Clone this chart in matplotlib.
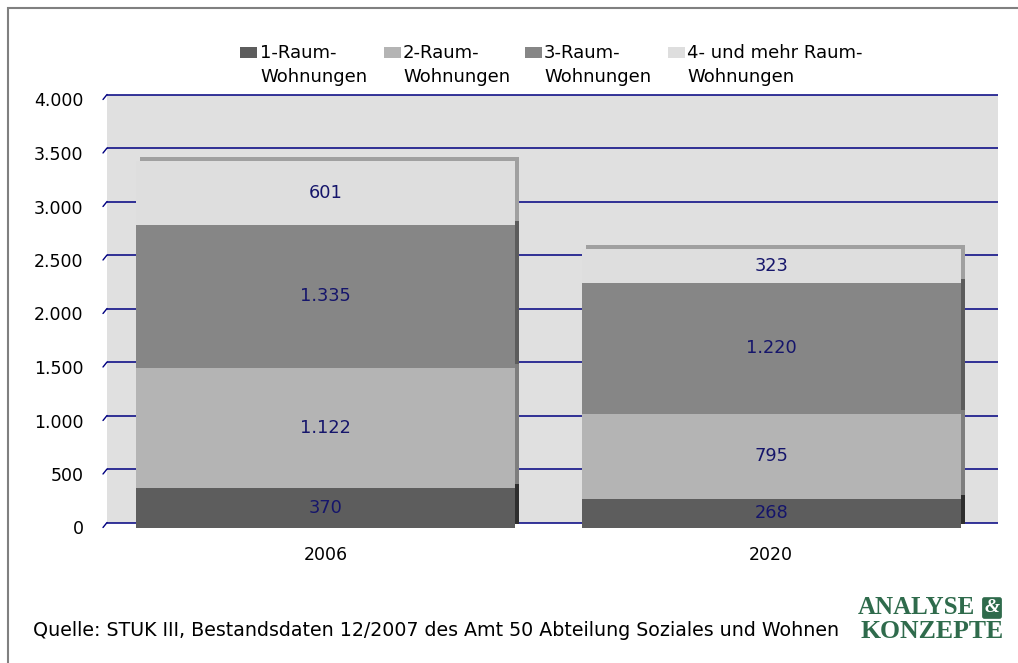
import matplotlib
matplotlib.use("Agg")
import matplotlib.pyplot as plt
from matplotlib.patches import Rectangle
from matplotlib.transforms import offset_copy

# Wohnungsbestand nach Wohnungsgröße
years = ["2006", "2020"]
series_names = ["1-Raum-\nWohnungen", "2-Raum-\nWohnungen",
                "3-Raum-\nWohnungen", "4- und mehr Raum-\nWohnungen"]
raum1 = [370, 268]
raum2 = [1122, 795]
raum3 = [1335, 1220]
raum4 = [601, 323]
y_ticks = [0, 500, 1000, 1500, 2000, 2500, 3000, 3500, 4000]

face_colors = ["#5d5d5d", "#b4b4b4", "#868686", "#dedede"]
side_colors = ["#2e2e2e", "#7e7e7e", "#5c5c5c", "#a0a0a0"]
label_color = "#15156b"
grid_color = "#000080"

W, H = 1018, 663
fig = plt.figure(figsize=(W / 100, H / 100), dpi=100)
plt.rcParams["font.family"] = ["DejaVu Sans"]


def fx(px):
    return px / W


def fy(py):
    return 1 - py / H


# front plane of the plot area
ax = fig.add_axes([fx(103), fy(527.5), fx(994) - fx(103), fy(99.5) - fy(527.5)])
ax.set_xlim(-0.5, 1.5)
ax.set_ylim(0, 4000)
ax.patch.set_visible(False)
for s in ax.spines.values():
    s.set_visible(False)

# back wall and gridlines, shifted for the depth effect
back = offset_copy(ax.transData, fig=fig, x=4, y=5, units="dots")
ax.add_patch(Rectangle((-0.5, 0), 2, 4000, facecolor="#e0e0e0", edgecolor="none",
                       transform=back, zorder=0, clip_on=False))
back_y = offset_copy(ax.get_yaxis_transform(), fig=fig, x=4, y=5, units="dots")
for t in y_ticks:
    ax.plot([0, 1], [t, t], color=grid_color, lw=1.1, transform=back_y,
            zorder=1, clip_on=False, solid_capstyle="butt")
    ax.annotate("", xy=(0, t), xycoords=ax.get_yaxis_transform(),
                xytext=(2.9, 3.6), textcoords="offset points",
                arrowprops=dict(arrowstyle="-", color=grid_color, lw=1,
                                shrinkA=0, shrinkB=0), zorder=1)

# stacked bars with a darker shifted copy for side and top faces
x = list(range(len(years)))
width = 0.85
depth = offset_copy(ax.transData, fig=fig, x=4, y=4, units="dots")
bottom = [0, 0]
for vals, fc, sc in zip([raum1, raum2, raum3, raum4], face_colors, side_colors):
    ax.bar(x, vals, width, bottom=bottom, color=sc, edgecolor="none",
           transform=depth, zorder=2, clip_on=False)
    ax.bar(x, vals, width, bottom=bottom, color=fc, edgecolor="none",
           zorder=3, clip_on=False)
    for xi, b, v in zip(x, bottom, vals):
        ax.text(xi, b + v / 2, f"{v:,}".replace(",", "."), ha="center",
                va="center", fontsize=12.8, color=label_color, zorder=4)
    bottom = [b + v for b, v in zip(bottom, vals)]

ax.set_xticks(x)
ax.set_xticklabels(years)
ax.set_yticks(y_ticks)
ax.set_yticklabels([f"{t:,}".replace(",", ".") for t in y_ticks])
ax.tick_params(axis="both", length=0, labelsize=12.5, colors="black")
ax.tick_params(axis="x", pad=13)
ax.tick_params(axis="y", pad=14)

# legend along the top
sq_x = [240, 384, 525, 668]
txt_x = [260, 403, 544, 687]
for sx, tx, name, fc in zip(sq_x, txt_x, series_names, face_colors):
    fig.patches.append(Rectangle((fx(sx), fy(58)), fx(17), 11 / H, facecolor=fc,
                                 edgecolor="none", transform=fig.transFigure))
    fig.text(fx(tx), fy(44), name, ha="left", va="top", fontsize=13,
             linespacing=1.45)

# source note and logo
fig.text(fx(33), fy(631), "Quelle: STUK III, Bestandsdaten 12/2007 des Amt 50 "
         "Abteilung Soziales und Wohnen", ha="left", va="center", fontsize=13.7)
green = "#2f6b4c"
fig.text(fx(858), fy(608), "ANALYSE", ha="left", va="center", fontsize=18,
         fontweight="bold", family="Liberation Serif", color=green)
fig.text(fx(992), fy(608), "&", ha="center", va="center", fontsize=14,
         fontweight="bold", style="italic", family="Liberation Serif", color="white",
         bbox=dict(boxstyle="round,pad=0.12", facecolor=green, edgecolor="none"))
fig.text(fx(1004), fy(632), "KONZEPTE", ha="right", va="center", fontsize=18.5,
         fontweight="bold", family="Liberation Serif", color=green)

# outer frame
fig.patches.append(Rectangle((fx(7.5), fy(700)), fx(1100), 692.5 / H, facecolor="none",
                             edgecolor="#808080", lw=1.5, transform=fig.transFigure))

fig.savefig("out.png", dpi=100)
